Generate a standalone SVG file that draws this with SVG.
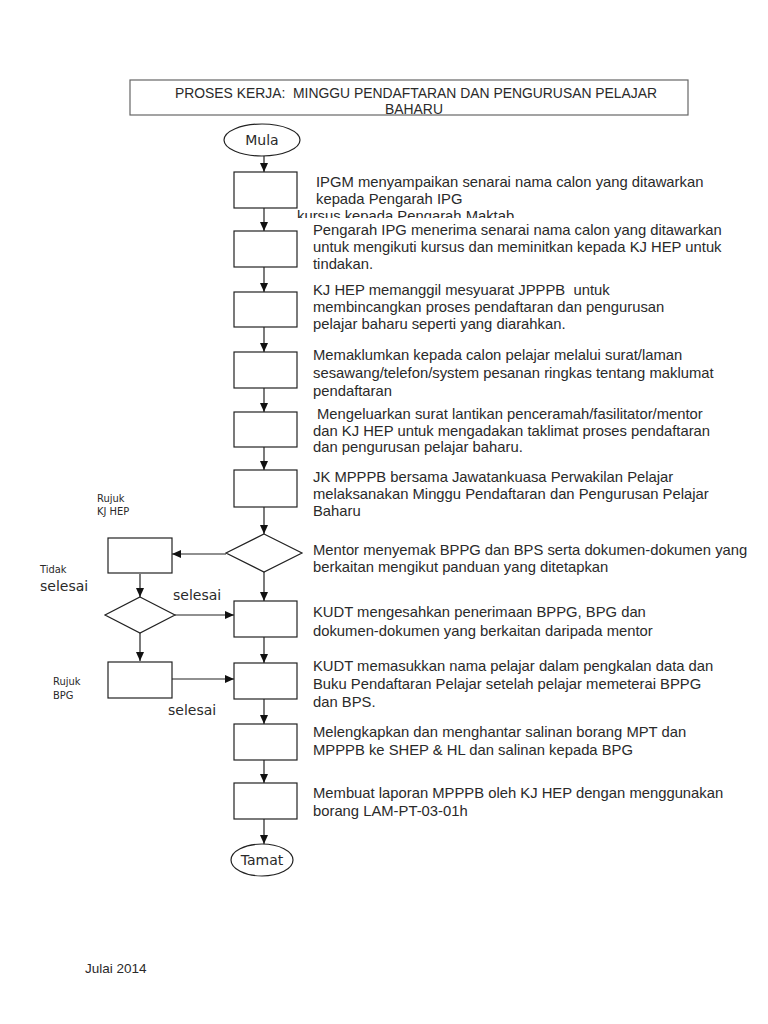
<svg xmlns="http://www.w3.org/2000/svg" width="768" height="1024" viewBox="0 0 768 1024">
<style>
.n{fill:#fff;stroke:#222;stroke-width:1.2}
.t{font-family:"Liberation Sans",Arial,sans-serif;font-size:14.8px;fill:#2a2a2a}
.s{font-family:"DejaVu Sans Condensed","DejaVu Sans",sans-serif;font-size:11px;fill:#2a2a2a}
.m{font-family:"DejaVu Sans","Liberation Sans",sans-serif;font-size:14px;fill:#2a2a2a}
.c line{stroke:#222;stroke-width:1.2;marker-end:url(#ah)}
</style>
<defs>
<marker id="ah" markerWidth="10" markerHeight="10" refX="9" refY="5" orient="auto" markerUnits="userSpaceOnUse">
<path d="M0,1 L9,5 L0,9 z" fill="#111"/>
</marker>
<clipPath id="cl"><rect x="290" y="205" width="300" height="13"/></clipPath>
</defs>
<rect width="768" height="1024" fill="#fff"/>
<g id="title">
<rect x="130" y="80" width="558" height="35" fill="#fff" stroke="#666" stroke-width="1.2"/>
<text class="t" x="416" y="98" text-anchor="middle" style="font-size:13.9px" xml:space="preserve">PROSES KERJA:  MINGGU PENDAFTARAN DAN PENGURUSAN PELAJAR</text>
<text class="t" x="414" y="114" text-anchor="middle" style="font-size:13.9px">BAHARU</text>
</g>
<g class="c" id="connectors">
<line x1="264" y1="156" x2="264" y2="172"/>
<line x1="264" y1="208" x2="264" y2="231"/>
<line x1="264" y1="267" x2="264" y2="292"/>
<line x1="264" y1="327" x2="264" y2="352"/>
<line x1="264" y1="388" x2="264" y2="412"/>
<line x1="264" y1="447" x2="264" y2="470"/>
<line x1="264" y1="507" x2="264" y2="534"/>
<line x1="264" y1="572" x2="264" y2="601"/>
<line x1="264" y1="637" x2="264" y2="663"/>
<line x1="264" y1="699" x2="264" y2="724"/>
<line x1="264" y1="760" x2="264" y2="783"/>
<line x1="264" y1="819" x2="264" y2="844"/>
<line x1="226" y1="554" x2="172" y2="554"/>
<line x1="140" y1="574" x2="140" y2="597"/>
<line x1="175" y1="615" x2="234" y2="615"/>
<line x1="140" y1="633" x2="140" y2="661"/>
<line x1="172" y1="679" x2="234" y2="679"/>
</g>
<g id="mula"><ellipse class="n" cx="262" cy="140" rx="38" ry="16"/><text class="m" x="262" y="145" text-anchor="middle">Mula</text></g>
<g id="s1"><rect class="n" x="234" y="172" width="63" height="36"/>
<text class="t" x="316" y="187">IPGM menyampaikan senarai nama calon yang ditawarkan</text>
<text class="t" x="316" y="204">kepada Pengarah IPG</text>
<text class="t" x="297" y="221" clip-path="url(#cl)">kursus kepada Pengarah Maktab</text></g>
<g id="s2"><rect class="n" x="234" y="231" width="63" height="36"/>
<text class="t" x="313" y="235">Pengarah IPG menerima senarai nama calon yang ditawarkan</text>
<text class="t" x="313" y="252">untuk mengikuti kursus dan meminitkan kepada KJ HEP untuk</text>
<text class="t" x="313" y="269">tindakan.</text></g>
<g id="s3"><rect class="n" x="234" y="292" width="63" height="35"/>
<text class="t" x="313" y="295" xml:space="preserve">KJ HEP memanggil mesyuarat JPPPB  untuk</text>
<text class="t" x="313" y="312">membincangkan proses pendaftaran dan pengurusan</text>
<text class="t" x="313" y="329">pelajar baharu seperti yang diarahkan.</text></g>
<g id="s4"><rect class="n" x="234" y="352" width="63" height="36"/>
<text class="t" x="313" y="360">Memaklumkan kepada calon pelajar melalui surat/laman</text>
<text class="t" x="313" y="378">sesawang/telefon/system pesanan ringkas tentang maklumat</text>
<text class="t" x="313" y="396">pendaftaran</text></g>
<g id="s5"><rect class="n" x="234" y="412" width="63" height="35"/>
<text class="t" x="317" y="419">Mengeluarkan surat lantikan penceramah/fasilitator/mentor</text>
<text class="t" x="313" y="436">dan KJ HEP untuk mengadakan taklimat proses pendaftaran</text>
<text class="t" x="313" y="452">dan pengurusan pelajar baharu.</text></g>
<g id="s6"><rect class="n" x="234" y="470" width="63" height="37"/>
<text class="t" x="313" y="482">JK MPPPB bersama Jawatankuasa Perwakilan Pelajar</text>
<text class="t" x="313" y="499">melaksanakan Minggu Pendaftaran dan Pengurusan Pelajar</text>
<text class="t" x="313" y="516">Baharu</text></g>
<g id="d1"><polygon class="n" points="264,534 302,553 264,572 226,553"/>
<text class="t" x="313" y="555">Mentor menyemak BPPG dan BPS serta dokumen-dokumen yang</text>
<text class="t" x="313" y="572">berkaitan mengikut panduan yang ditetapkan</text></g>
<g id="s7"><rect class="n" x="234" y="601" width="63" height="36"/>
<text class="t" x="313" y="617">KUDT mengesahkan penerimaan BPPG, BPG dan</text>
<text class="t" x="313" y="636">dokumen-dokumen yang berkaitan daripada mentor</text></g>
<g id="s8"><rect class="n" x="234" y="663" width="63" height="36"/>
<text class="t" x="313" y="671">KUDT memasukkan nama pelajar dalam pengkalan data dan</text>
<text class="t" x="313" y="689">Buku Pendaftaran Pelajar setelah pelajar memeterai BPPG</text>
<text class="t" x="313" y="707">dan BPS.</text></g>
<g id="s9"><rect class="n" x="234" y="724" width="63" height="36"/>
<text class="t" x="313" y="737">Melengkapkan dan menghantar salinan borang MPT dan</text>
<text class="t" x="313" y="755">MPPPB ke SHEP &amp; HL dan salinan kepada BPG</text></g>
<g id="s10"><rect class="n" x="234" y="783" width="63" height="36"/>
<text class="t" x="313" y="798">Membuat laporan MPPPB oleh KJ HEP dengan menggunakan</text>
<text class="t" x="313" y="816">borang LAM-PT-03-01h</text></g>
<g id="tamat"><ellipse class="n" cx="262" cy="860" rx="31" ry="16"/><text class="m" x="262" y="865" text-anchor="middle">Tamat</text></g>
<g id="l1"><rect class="n" x="108" y="538" width="64" height="35"/></g>
<g id="d2"><polygon class="n" points="140,597 175,615 140,633 105,615"/></g>
<g id="l2"><rect class="n" x="108" y="662" width="64" height="36"/></g>
<g id="labels">
<text class="s" x="97" y="502">Rujuk</text>
<text class="s" x="97" y="515">KJ HEP</text>
<text class="s" x="40" y="573">Tidak</text>
<text class="m" x="40" y="591">selesai</text>
<text class="m" x="173" y="600">selesai</text>
<text class="s" x="53" y="685">Rujuk</text>
<text class="s" x="53" y="699">BPG</text>
<text class="m" x="168" y="715">selesai</text>
<text class="t" x="85" y="973" style="font-size:13.5px">Julai 2014</text>
</g>
</svg>
